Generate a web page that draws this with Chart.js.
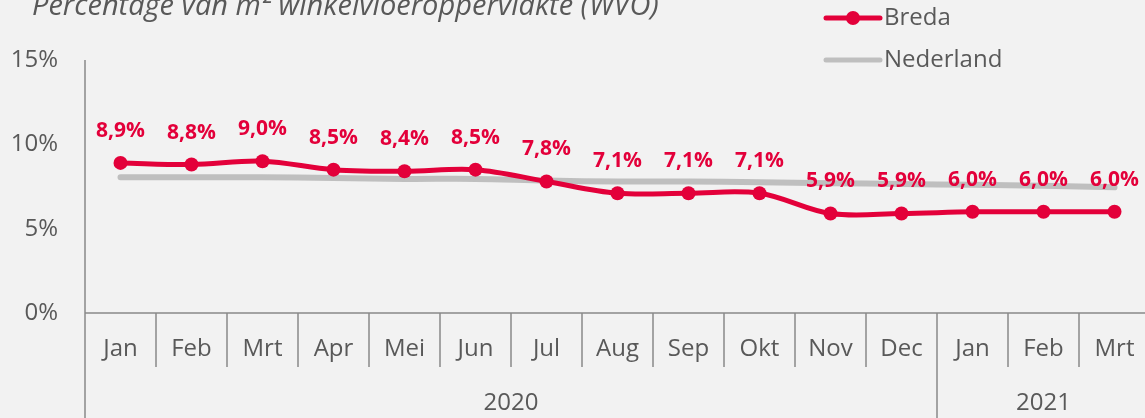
<!DOCTYPE html>
<html>
<head>
<meta charset="utf-8">
<script src="https://cdn.jsdelivr.net/npm/chart.js@4"></script>
<style>
    html, body { margin: 0; padding: 0; background: #f2f2f2; overflow: hidden; }
    #wvoChart { display: block; }
</style>
</head>
<body>
<canvas id="wvoChart" width="1150" height="418"></canvas>
<script>
const months = ['Jan', 'Feb', 'Mrt', 'Apr', 'Mei', 'Jun', 'Jul', 'Aug', 'Sep', 'Okt', 'Nov', 'Dec', 'Jan', 'Feb', 'Mrt'];
const years = ['2020', '2021'];
const yearSpans = [12, 3];
const breda = [8.9, 8.8, 9.0, 8.5, 8.4, 8.5, 7.8, 7.1, 7.1, 7.1, 5.9, 5.9, 6.0, 6.0, 6.0];
const nederland = [8.05, 8.05, 8.05, 8.0, 7.95, 7.95, 7.85, 7.8, 7.8, 7.75, 7.7, 7.65, 7.6, 7.55, 7.45];
const yTicks = [0, 5, 10, 15];
const chartTitle = 'Percentage van m\u00B2 winkelvloeroppervlakte (WVO)';

const RED = '#e3003a';
const GREY_LINE = '#bfbfbf';
const AXIS = '#888888';
const TEXT = '#595959';
const FONT = '"Open Sans", sans-serif';

function fmt(v) {
    return v.toFixed(1).replace('.', ',') + '%';
}

const decorPlugin = {
    id: 'decor',
    afterDraw(chart) {
        const ctx = chart.ctx;
        const x = chart.scales.x;
        const area = chart.chartArea;
        const half = (x.getPixelForValue(1) - x.getPixelForValue(0)) / 2;
        const h = chart.height;

        ctx.save();
        ctx.strokeStyle = AXIS;
        ctx.lineWidth = 1.5;

        // left axis line, running down through the category box
        ctx.beginPath();
        ctx.moveTo(area.left, area.top);
        ctx.lineTo(area.left, h);
        ctx.stroke();

        // 0% baseline
        ctx.beginPath();
        ctx.moveTo(area.left, area.bottom);
        ctx.lineTo(area.right, area.bottom);
        ctx.stroke();

        // month dividers, long one where the year changes
        let boundaries = [];
        let acc = 0;
        yearSpans.forEach(s => { acc += s; boundaries.push(acc); });
        for (let i = 1; i < months.length; i++) {
            const px = x.getPixelForValue(i) - half;
            const isYear = boundaries.includes(i);
            ctx.beginPath();
            ctx.moveTo(px, area.bottom);
            ctx.lineTo(px, isYear ? h : area.bottom + 54);
            ctx.stroke();
        }

        // year labels
        ctx.fillStyle = TEXT;
        ctx.font = '24px ' + FONT;
        ctx.textAlign = 'center';
        ctx.textBaseline = 'middle';
        let start = 0;
        years.forEach((yr, i) => {
            const end = start + yearSpans[i];
            const x0 = x.getPixelForValue(start) - half;
            const x1 = end >= months.length ? area.right : x.getPixelForValue(end) - half;
            ctx.fillText(yr, (x0 + x1) / 2, 403);
            start = end;
        });

        // data labels for Breda
        const meta = chart.getDatasetMeta(0);
        ctx.fillStyle = RED;
        ctx.font = 'bold 21px ' + FONT;
        meta.data.forEach((pt, i) => {
            ctx.fillText(fmt(breda[i]), pt.x, pt.y - 32);
        });

        // legend
        const lx0 = 826, lx1 = 880;
        ctx.lineCap = 'round';
        ctx.lineWidth = 5;
        ctx.strokeStyle = RED;
        ctx.beginPath();
        ctx.moveTo(lx0, 18);
        ctx.lineTo(lx1, 18);
        ctx.stroke();
        ctx.fillStyle = RED;
        ctx.beginPath();
        ctx.arc((lx0 + lx1) / 2, 18, 7, 0, Math.PI * 2);
        ctx.fill();
        ctx.strokeStyle = GREY_LINE;
        ctx.beginPath();
        ctx.moveTo(lx0, 60);
        ctx.lineTo(lx1, 60);
        ctx.stroke();
        ctx.fillStyle = TEXT;
        ctx.font = '24px ' + FONT;
        ctx.textAlign = 'left';
        ctx.fillText(chart.data.datasets[0].label, 884, 18);
        ctx.fillText(chart.data.datasets[1].label, 884, 60);

        // title, cut off at the top like the original
        ctx.font = 'italic 29px ' + FONT;
        ctx.textBaseline = 'alphabetic';
        ctx.fillText(chartTitle, 32, 15);
        ctx.restore();
    }
};

const ctx = document.getElementById('wvoChart').getContext('2d');
new Chart(ctx, {
    type: 'line',
    data: {
        labels: months,
        datasets: [
            {
                label: 'Breda',
                data: breda,
                borderColor: RED,
                backgroundColor: RED,
                borderWidth: 5,
                pointRadius: 7,
                pointBorderWidth: 0,
                pointBackgroundColor: RED,
                tension: 0.35,
                order: 0
            },
            {
                label: 'Nederland',
                data: nederland,
                borderColor: GREY_LINE,
                backgroundColor: GREY_LINE,
                borderWidth: 6,
                borderCapStyle: 'round',
                pointRadius: 0,
                tension: 0.35,
                order: 1
            }
        ]
    },
    options: {
        responsive: false,
        animation: false,
        layout: {
            autoPadding: false,
            padding: { top: 60, right: 0, bottom: 0, left: 0 }
        },
        plugins: {
            legend: { display: false },
            tooltip: { enabled: false }
        },
        scales: {
            x: {
                offset: true,
                grid: { display: false, drawTicks: false },
                border: { display: false },
                ticks: {
                    color: TEXT,
                    font: { family: FONT, size: 24 },
                    padding: 22,
                    maxRotation: 0,
                    autoSkip: false
                },
                afterFit(scale) {
                    scale.height = 105;
                    scale.paddingLeft = 0;
                    scale.paddingRight = 0;
                }
            },
            y: {
                min: 0,
                max: 15,
                grid: { display: false, drawTicks: false },
                border: { display: false },
                afterBuildTicks(scale) { scale.ticks = yTicks.map(v => ({ value: v })); },
                ticks: {
                    color: TEXT,
                    font: { family: FONT, size: 24 },
                    padding: 27,
                    callback: v => v + '%'
                },
                afterFit(scale) { scale.width = 85; }
            }
        }
    },
    plugins: [decorPlugin]
});
</script>
</body>
</html>
